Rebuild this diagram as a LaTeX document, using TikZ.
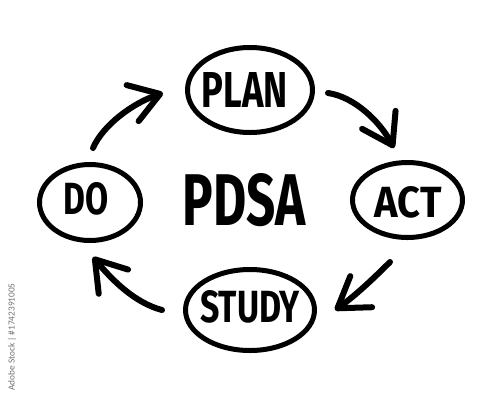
\documentclass[tikz,border=0pt]{standalone}
\usepackage{fontspec}
\setmainfont{Fira Sans}
\newfontfamily\wmfont{Carlito}
\usetikzlibrary{shapes.geometric,arrows.meta}
\newcommand{\mkfit}[3]{\resizebox{#1}{#2}{\bfseries #3}}
\begin{document}
\begin{tikzpicture}[x=1pt,y=-1pt,
 oval/.style={draw=black,line width=5pt,ellipse,inner sep=0pt},
 lbl/.style={inner sep=0pt,text=black},
 arr/.style={draw=black,line width=6pt,line cap=round,-{Straight Barb[length=29pt,width=38pt,round]}},
]
\useasboundingbox[fill=white] (0,0) rectangle (500,400);
% ovals
\node[oval,minimum width=125pt,minimum height=85pt] (plan) at (250,90) {};
\node[oval,minimum width=110pt,minimum height=75pt] (act) at (407.5,200) {};
\node[oval,minimum width=129pt,minimum height=81pt] (study) at (250,310) {};
\node[oval,minimum width=101pt,minimum height=76pt] (do) at (90,202.5) {};
% labels
\node[lbl] (plant) at (245,90) {\mkfit{86pt}{35pt}{PLAN}};
\node[lbl] (actt) at (408,202) {\mkfit{67pt}{31pt}{ACT}};
\node[lbl] (studyt) at (250,307) {\mkfit{100pt}{32pt}{STUDY}};
\node[lbl] (dot) at (86,199) {\mkfit{45pt}{32pt}{DO}};
\node[lbl] (pdsa) at (244,200) {\mkfit{123pt}{52pt}{PDSA}};
% arrow end points
\coordinate (a1s) at (93,148);  \coordinate (a1e) at (163,93);
\coordinate (a2s) at (328,93);  \coordinate (a2e) at (394,148);
\coordinate (a3s) at (390,262); \coordinate (a3e) at (335,310);
\coordinate (a4s) at (162,310); \coordinate (a4e) at (93,257);
\draw[arr] (a1s) .. controls (103,125) and (133,103) .. (a1e);
\draw[arr] (a2s) .. controls (355,97) and (380,122) .. (a2e);
\draw[arr] (a3s) .. controls (375,277) and (355,296) .. (a3e);
\draw[arr] (a4s) .. controls (135,303) and (112,280) .. (a4e);
% watermark
\node[inner sep=0pt,rotate=90,text=black!55] (wm) at (12,337) {\resizebox{107pt}{!}{\wmfont Adobe Stock | \#1742391005}};
\end{tikzpicture}
\end{document}
